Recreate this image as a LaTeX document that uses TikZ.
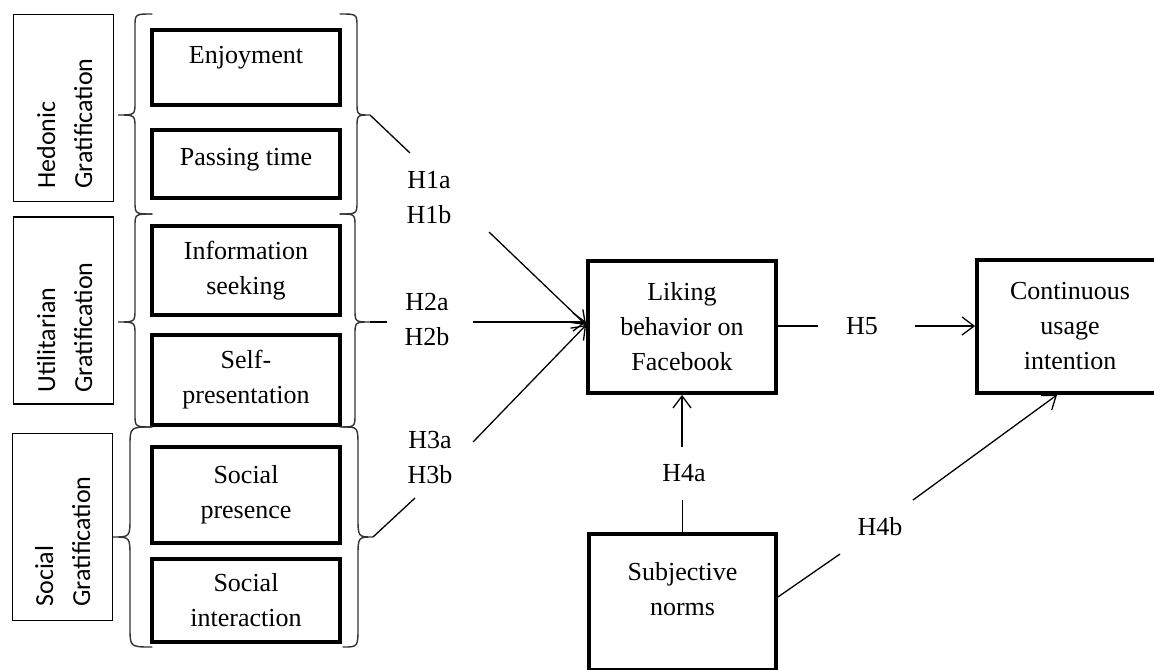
\documentclass[tikz,border=0pt]{standalone}
\usepackage{fontspec}
\setmainfont{Liberation Serif}
\newfontfamily\catfont{Carlito}
\usetikzlibrary{arrows.meta}
\newcommand\drawbrace[7]{%
  \draw[bracestyle] (#1,#5) .. controls (#2,#5) .. (#2,#5+#4) -- (#2,#6-#4)
    .. controls (#2,#6) .. (#3,#6) .. controls (#2,#6) .. (#2,#6+#4)
    -- (#2,#7-#4) .. controls (#2,#7) .. (#1,#7);}
\begin{document}
\begin{tikzpicture}[x=0.5pt,y=-0.5pt,
  varbox/.style={draw, line width=1.9pt, align=center, inner sep=0pt,
    font=\fontsize{13}{17.5}\selectfont},
  catbox/.style={draw, line width=0.65pt, minimum width=50pt, minimum height=93.5pt},
  cattext/.style={rotate=90, anchor=base west, inner sep=0pt,
    font=\catfont\fontsize{13}{15}\selectfont},
  hyp/.style={align=center, inner sep=0pt, font=\fontsize{13}{17.5}\selectfont},
  conn/.style={line width=0.65pt},
  arr/.style={conn, -{Straight Barb[length=6pt,width=9pt]}},
  bracestyle/.style={line width=0.7pt, black!80, line cap=round},
]
\useasboundingbox (0,0) rectangle (1154,669);
\fill[white] (0,0) rectangle (1154,669);
\clip (0,0) rectangle (1154,669);

% category boxes
\node[catbox] (hed) at (63.5,108) {};
\node[catbox] (util) at (63.5,310.5) {};
\node[catbox] (soc) at (62.5,527) {};
\node[cattext] (hedA) at (55,189) {Hedonic};
\node[cattext] (hedB) at (92,189) {Gratification};
\node[cattext] (utilA) at (55,393) {Utilitarian};
\node[cattext] (utilB) at (92,393) {Gratification};
\node[cattext] (socA) at (53,607) {Social};
\node[cattext] (socB) at (90,607) {Gratification};

% construct boxes
\node[varbox, minimum width=94pt, minimum height=37.5pt] (enj) at (246,67.5) {Enjoyment\\[-5pt]\mbox{}};
\node[varbox, minimum width=94pt, minimum height=34pt] (pas) at (246,164) {Passing time\\[-10pt]\mbox{}};
\node[varbox, minimum width=94pt, minimum height=44.5pt] (inf) at (246,270.5) {Information\\seeking};
\node[varbox, minimum width=94pt, minimum height=45pt] (self) at (246,380) {Self-\\presentation};
\node[varbox, minimum width=94pt, minimum height=48pt] (spres) at (246,495) {Social\\presence};
\node[varbox, minimum width=94pt, minimum height=41.5pt] (sint) at (246,600.5) {Social\\interaction};
\node[varbox, minimum width=94pt, minimum height=66pt] (liking) at (682,327) {Liking\\behavior on\\Facebook};
\node[varbox, minimum width=93pt, minimum height=66.5pt] (cont) at (1070,326.5) {Continuous\\usage\\intention};
\node[varbox, minimum width=93.5pt, minimum height=68pt] (subj) at (682.5,602) {Subjective\\norms\\[-4pt]\mbox{}};

% braces
\drawbrace{152}{135}{118}{13}{14}{115}{214}
\drawbrace{152}{135}{118}{13}{214}{322}{427}
\drawbrace{152}{130}{113}{20}{427}{537}{647}
\drawbrace{340}{357}{370}{13}{14}{115}{214}
\drawbrace{340}{355}{370}{13}{214}{322}{427}
\drawbrace{343}{358}{373}{20}{427}{537}{647}
\coordinate (htip) at (370,115);
\coordinate (utip) at (370,322);
\coordinate (stip) at (373,537);

% hypotheses H1-H3
\coordinate (h1s) at (410,153);
\node[hyp] (h1) at (429,197.5) {H1a\\H1b};
\coordinate (h1e) at (489,232);
\draw[conn] (htip) -- (h1s);
\draw[arr] (h1e) -- ([yshift=1pt]liking.west);

\coordinate (h2s) at (387,322);
\node[hyp] (h2) at (427,319.5) {H2a\\H2b};
\coordinate (h2e) at (473,322);
\draw[conn] (utip) -- (h2s);
\draw[arr] (h2e) -- (h2e -| liking.west);

\coordinate (h3s) at (415,498);
\node[hyp] (h3) at (430,457.5) {H3a\\H3b};
\coordinate (h3e) at (473,442);
\draw[conn] (stip) -- (h3s);
\draw[arr] (h3e) -- ([yshift=1pt]liking.west);

% H5
\coordinate (h5s) at (818,326);
\node[hyp] (h5) at (862,326) {H5};
\coordinate (h5e) at (915,326);
\draw[conn] (liking.east |- h5s) -- (h5s);
\draw[arr] (h5e) -- (h5e -| cont.west);

% H4a
\coordinate (h4as) at (683,500);
\node[hyp] (h4a) at (684,473) {H4a};
\coordinate (h4ae) at (683,447);
\draw[conn] (subj.north) -- (subj.north |- h4as);
\draw[arr] (liking.south |- h4ae) -- (liking.south);

% H4b
\coordinate (h4bs) at (840,554);
\node[hyp] (h4b) at (880,527) {H4b};
\coordinate (h4be) at (913,500);
\draw[conn] ([yshift=2.5pt]subj.east) -- (h4bs);
\draw[arr] (h4be) -- ([xshift=-6.5pt]cont.south);
\end{tikzpicture}
\end{document}
